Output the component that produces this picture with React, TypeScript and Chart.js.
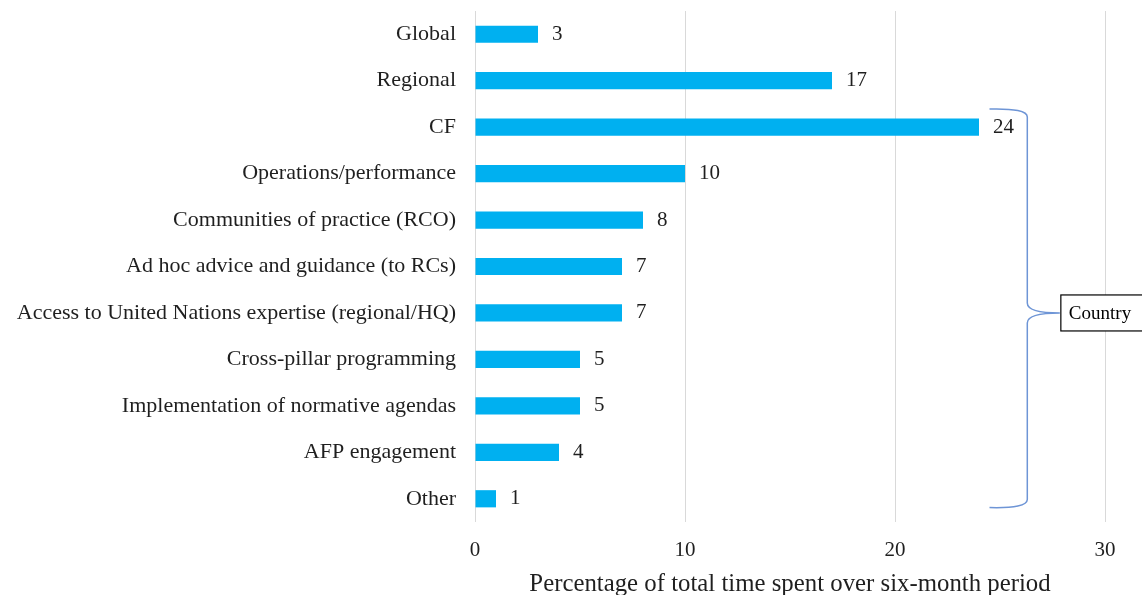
import React, { useEffect, useRef } from "react";
import { Chart, registerables } from "chart.js";

Chart.register(...registerables);

const categories = [
  "Global",
  "Regional",
  "CF",
  "Operations/performance",
  "Communities of practice (RCO)",
  "Ad hoc advice and guidance (to RCs)",
  "Access to United Nations expertise (regional/HQ)",
  "Cross-pillar programming",
  "Implementation of normative agendas",
  "AFP engagement",
  "Other",
];
const values = [3, 17, 24, 10, 8, 7, 7, 5, 5, 4, 1];
const xTicks = [0, 10, 20, 30];
const axisTitle = "Percentage of total time spent over six-month period";
const braceLabel = "Country";

const FONT = "'Liberation Serif', 'Times New Roman', serif";
const TEXT = "#1f1f1f";
const BAR = "#00B0F0";
const BRACE = "#6E95D6";

const valueLabels = {
  id: "valueLabels",
  afterDatasetsDraw(chart: any) {
    const ctx = chart.ctx;
    const meta = chart.getDatasetMeta(0);
    ctx.save();
    ctx.font = `21px ${FONT}`;
    ctx.fillStyle = TEXT;
    ctx.textAlign = "left";
    ctx.textBaseline = "middle";
    meta.data.forEach((el: any, i: number) => {
      ctx.fillText(String(values[i]), el.x + 14, el.y);
    });
    ctx.restore();
  },
};

const bracePlugin = {
  id: "brace",
  afterDraw(chart: any) {
    const ctx = chart.ctx;
    const xs = chart.scales.x;
    const ys = chart.scales.y;
    const band = ys.getPixelForValue(1) - ys.getPixelForValue(0);
    const top = ys.getPixelForValue(2) - band * 0.39;
    const bot = ys.getPixelForValue(10) + band * 0.19;
    const mid = ys.getPixelForValue(6);
    const xEnd = xs.getPixelForValue(24.5);
    const xV = xs.getPixelForValue(26.3);
    const xTip = xs.getPixelForValue(27.85);
    ctx.save();
    ctx.strokeStyle = BRACE;
    ctx.lineWidth = 1.5;
    ctx.beginPath();
    ctx.moveTo(xEnd, top);
    ctx.quadraticCurveTo(xV, top - 1, xV, top + 8);
    ctx.lineTo(xV, mid - 10);
    ctx.quadraticCurveTo(xV, mid, xTip, mid);
    ctx.quadraticCurveTo(xV, mid, xV, mid + 10);
    ctx.lineTo(xV, bot - 8);
    ctx.quadraticCurveTo(xV, bot + 1, xEnd, bot);
    ctx.stroke();
    const bx = xTip + 1;
    const bh = 36;
    ctx.fillStyle = "#ffffff";
    ctx.fillRect(bx, mid - bh / 2, 100, bh);
    ctx.strokeStyle = "#000000";
    ctx.lineWidth = 1.2;
    ctx.strokeRect(bx, mid - bh / 2, 100, bh);
    ctx.fillStyle = "#000000";
    ctx.font = `19px ${FONT}`;
    ctx.textAlign = "left";
    ctx.textBaseline = "middle";
    ctx.fillText(braceLabel, bx + 8, mid + 1);
    ctx.restore();
  },
};

export default function App() {
  const ref = useRef<HTMLCanvasElement | null>(null);
  useEffect(() => {
    if (!ref.current) return;
    const chart = new Chart(ref.current, {
      type: "bar",
      data: {
        labels: categories,
        datasets: [
          {
            data: values,
            backgroundColor: BAR,
            borderWidth: 0,
            categoryPercentage: 1,
            barPercentage: 0.37,
          },
        ],
      },
      options: {
        indexAxis: "y",
        animation: false,
        responsive: true,
        maintainAspectRatio: false,
        layout: { padding: { top: 11, right: 37, bottom: 0, left: 0 } },
        plugins: { legend: { display: false }, tooltip: { enabled: false } },
        scales: {
          x: {
            min: 0,
            max: 30,
            afterBuildTicks(axis: any) {
              axis.ticks = xTicks.map((v) => ({ value: v }));
            },
            afterFit(axis: any) {
              axis.height = 73;
              axis.paddingLeft = 0;
              axis.paddingRight = 0;
            },
            grid: { color: "#d9d9d9", drawTicks: false, lineWidth: 1 },
            border: { display: false },
            ticks: {
              padding: 16,
              color: TEXT,
              font: { family: FONT, size: 21 },
            },
            title: {
              display: true,
              text: axisTitle,
              color: TEXT,
              font: { family: FONT, size: 24.8 },
              padding: { top: 0, bottom: -4 },
            },
          },
          y: {
            grid: { display: false, drawTicks: false },
            border: { display: false },
            afterFit(axis: any) {
              axis.width = 475;
              axis.paddingTop = 0;
              axis.paddingBottom = 0;
            },
            ticks: {
              padding: 19,
              color: TEXT,
              font: { family: FONT, size: 22 },
            },
          },
        },
      },
      plugins: [valueLabels, bracePlugin],
    });
    return () => chart.destroy();
  }, []);
  return (
    <div style={{ position: "fixed", left: 0, top: 0, width: 1142, height: 595, background: "#fff" }}>
      <canvas ref={ref} />
    </div>
  );
}
